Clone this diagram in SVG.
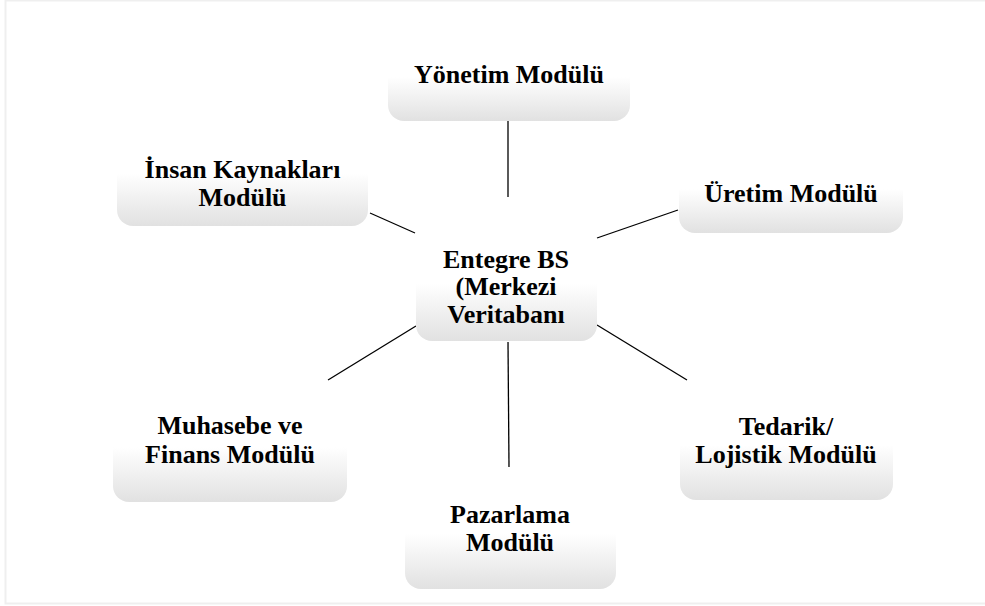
<svg xmlns="http://www.w3.org/2000/svg" width="985" height="606" viewBox="0 0 985 606">
  <defs>
    <linearGradient id="boxFill" x1="0" y1="0" x2="0" y2="1">
      <stop offset="0" stop-color="#ffffff"/>
      <stop offset="0.45" stop-color="#ffffff"/>
      <stop offset="1" stop-color="#e1e1e1"/>
    </linearGradient>
    <style>
      .box { fill: url(#boxFill); stroke: none; }
      .label { font-family: 'Liberation Serif', 'Times New Roman', Times, serif; font-weight: 700; font-size: 26px; fill: #000; text-anchor: middle; }
      .link { stroke: #000; stroke-width: 1.3; fill: none; }
    </style>
  </defs>

  <rect width="985" height="606" fill="#ffffff"/>
  <!-- outer frame -->
  <rect x="5.5" y="0.5" width="990" height="603" fill="none" stroke="#efefef" stroke-width="2"/>

  <g id="connectors">
    <line class="link" x1="508" y1="121" x2="508" y2="197"/>
    <line class="link" x1="370" y1="213" x2="415" y2="233"/>
    <line class="link" x1="597" y1="238" x2="678" y2="210"/>
    <line class="link" x1="328" y1="380" x2="416" y2="326"/>
    <line class="link" x1="508" y1="342" x2="509" y2="467"/>
    <line class="link" x1="597" y1="325" x2="687" y2="380"/>
  </g>

  <g id="node-yonetim">
    <rect class="box" x="388" y="41" width="242" height="80" rx="16"/>
    <text class="label" x="509" y="83">Yönetim Modülü</text>
  </g>

  <g id="node-insan">
    <rect class="box" x="117" y="130" width="251" height="96" rx="16"/>
    <text class="label" x="242.5" y="178">İnsan Kaynakları</text>
    <text class="label" x="242.5" y="206">Modülü</text>
  </g>

  <g id="node-uretim">
    <rect class="box" x="679" y="153" width="224" height="80" rx="16"/>
    <text class="label" x="791" y="202">Üretim Modülü</text>
  </g>

  <g id="node-entegre">
    <rect class="box" x="416" y="236" width="181" height="105" rx="16"/>
    <text class="label" x="506" y="267.5">Entegre BS</text>
    <text class="label" x="506" y="295">(Merkezi</text>
    <text class="label" x="506" y="322.5">Veritabanı</text>
  </g>

  <g id="node-muhasebe">
    <rect class="box" x="113" y="402" width="234" height="100" rx="16"/>
    <text class="label" x="230" y="434">Muhasebe ve</text>
    <text class="label" x="230" y="463">Finans Modülü</text>
  </g>

  <g id="node-tedarik">
    <rect class="box" x="680" y="400" width="213" height="100" rx="16"/>
    <text class="label" x="786" y="435">Tedarik/</text>
    <text class="label" x="786" y="463">Lojistik Modülü</text>
  </g>

  <g id="node-pazarlama">
    <rect class="box" x="405" y="489" width="211" height="100" rx="16"/>
    <text class="label" x="510" y="523">Pazarlama</text>
    <text class="label" x="510" y="551">Modülü</text>
  </g>
</svg>
